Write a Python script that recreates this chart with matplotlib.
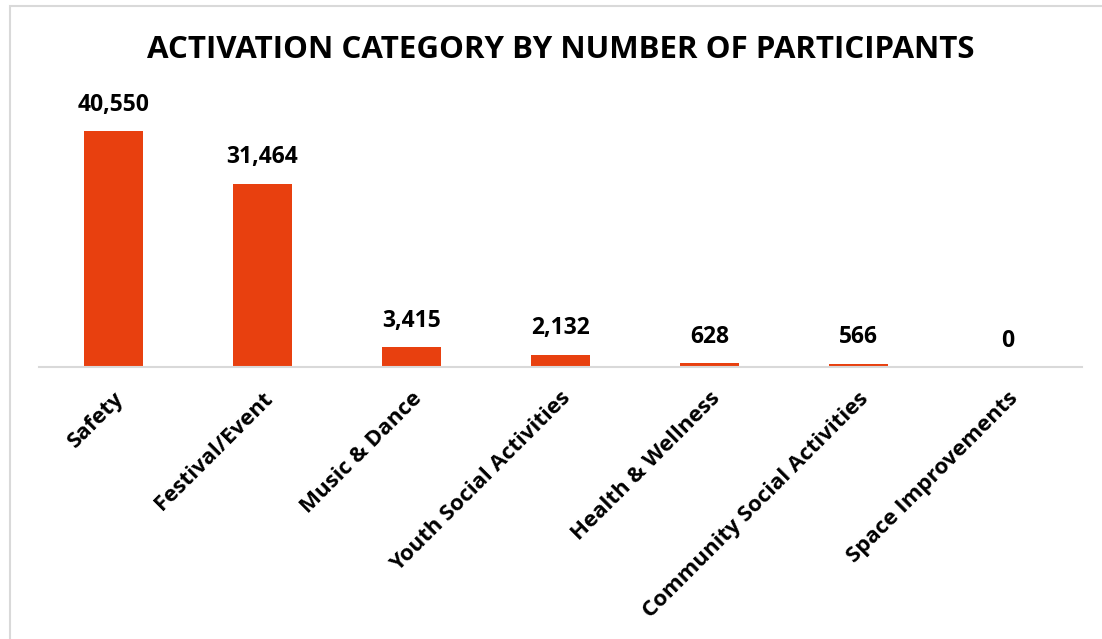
import matplotlib.pyplot as plt
from matplotlib.patches import Rectangle

categories = ["Safety", "Festival/Event", "Music & Dance", "Youth Social Activities",
              "Health & Wellness", "Community Social Activities", "Space Improvements"]
participants = [40550, 31464, 3415, 2132, 628, 566, 0]

BAR_COLOR = "#E8400F"
FONT = "Open Sans"

fig = plt.figure(figsize=(11.02, 6.39), dpi=100)
W, H = 1102, 639

# chart area frame (only top/left edges fall inside the canvas)
fig.patches.append(Rectangle((10 / W, -0.1), 1.2, (H - 6) / H + 0.1,
                             transform=fig.transFigure, fill=False,
                             edgecolor="#D9D9D9", linewidth=1.5))

ax = fig.add_axes([39 / W, (H - 367) / H, 1043 / W, 262 / H])
x = range(len(categories))
bars = ax.bar(x, participants, width=0.4, color=BAR_COLOR)

ax.set_xlim(-0.5, len(categories) - 0.5)
ax.set_ylim(0, 45000)

for p, v in zip(bars, participants):
    ax.annotate(f"{v:,}", xy=(p.get_x() + p.get_width() / 2, v), xytext=(0, 19),
                textcoords="offset points", ha="center", va="center",
                fontsize=16.5, fontweight="bold", family=FONT)

ax.set_xticks(list(x))
ax.set_xticklabels(categories, rotation=45, ha="right", va="top",
                   rotation_mode="anchor", fontsize=16, fontweight="bold", family=FONT)
ax.tick_params(axis="x", length=0, pad=15)
ax.set_yticks([])

for s in ["top", "right", "left"]:
    ax.spines[s].set_visible(False)
ax.spines["bottom"].set_color("#D9D9D9")
ax.spines["bottom"].set_linewidth(1.5)

fig.text(561 / W, 1 - 50 / H, "ACTIVATION CATEGORY BY NUMBER OF PARTICIPANTS",
         ha="center", va="center", fontsize=22.5, fontweight="bold", family=FONT)

fig.savefig("out.png", dpi=100)
